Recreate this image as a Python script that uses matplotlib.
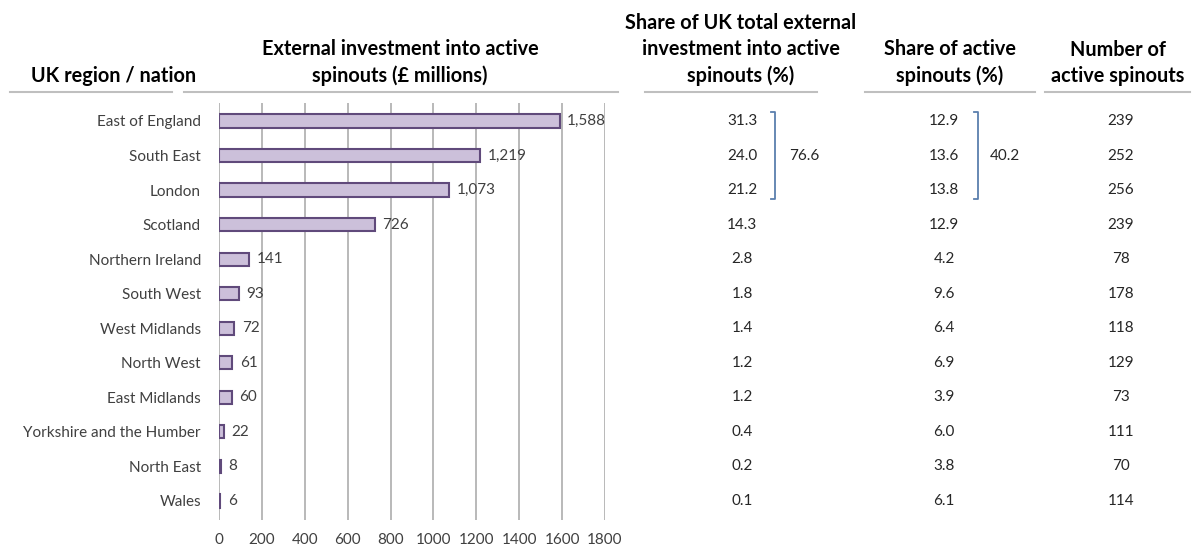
import matplotlib.pyplot as plt
import matplotlib.transforms as mtransforms
from matplotlib.lines import Line2D

# Regional data on university spinouts
regions = ["East of England", "South East", "London", "Scotland", "Northern Ireland",
           "South West", "West Midlands", "North West", "East Midlands",
           "Yorkshire and the Humber", "North East", "Wales"]
investment = [1588, 1219, 1073, 726, 141, 93, 72, 61, 60, 22, 8, 6]
share_investment = [31.3, 24.0, 21.2, 14.3, 2.8, 1.8, 1.4, 1.2, 1.2, 0.4, 0.2, 0.1]
share_spinouts = [12.9, 13.6, 13.8, 12.9, 4.2, 9.6, 6.4, 6.9, 3.9, 6.0, 3.8, 6.1]
n_spinouts = [239, 252, 256, 239, 78, 178, 118, 129, 73, 111, 70, 114]
x_ticks = [0, 200, 400, 600, 800, 1000, 1200, 1400, 1600, 1800]

# Golden-triangle totals (first three regions)
top3_investment_total = 76.6
top3_spinouts_total = 40.2

headers = [
    ("UK region / nation", 114),
    ("External investment into active\nspinouts (£ millions)", 400),
    ("Share of UK total external\ninvestment into active\nspinouts (%)", 741),
    ("Share of active\nspinouts (%)", 950),
    ("Number of\nactive spinouts", 1118),
]
header_rules = [(10, 172), (184, 618), (645, 817), (865, 1035), (1045, 1190)]

W, H = 1192, 545
plt.rcParams['font.family'] = ['Lato', 'DejaVu Sans']

fig = plt.figure(figsize=(W / 100, H / 100), dpi=100)

ax = fig.add_axes([219 / W, 1 - 520 / H, 386 / W, (520 - 103) / H])
ypos = list(range(len(regions)))
ax.barh(ypos, investment, height=0.38, color="#ccc0da", edgecolor="#604a7b",
        linewidth=1.5, zorder=3)
for y, v in zip(ypos, investment):
    ax.annotate(f"{v:,}", xy=(v, y), xytext=(5.5, 0), textcoords="offset points",
                va="center", ha="left", fontsize=11, color="#404040")

ax.set_xlim(0, 1800)
ax.set_ylim(len(regions) - 0.45, -0.52)
ax.set_xticks(x_ticks)
ax.set_xticklabels([str(t) for t in x_ticks], fontsize=11, color="#404040")
ax.set_yticks(ypos)
ax.set_yticklabels(regions, fontsize=11, color="#404040")
ax.tick_params(axis="both", length=0)
ax.tick_params(axis="y", pad=13)
ax.tick_params(axis="x", pad=9)
ax.grid(axis="x", color="#b3b3b3", linewidth=1.3, zorder=0)
for s in ax.spines.values():
    s.set_visible(False)

# Rows share the bar axis' y scale; x is in figure pixels
trans = mtransforms.blended_transform_factory(
    mtransforms.Affine2D().scale(1 / W, 1) + fig.transFigure, ax.transData)
# x and y in figure pixels, measured from the top-left corner
ptrans = mtransforms.Affine2D().scale(1 / W, -1 / H).translate(0, 1) + fig.transFigure

for y, a, b, c in zip(ypos, share_investment, share_spinouts, n_spinouts):
    fig.text(742, y, f"{a:.1f}", transform=trans, ha="center", va="center",
             fontsize=11, color="#262626")
    fig.text(944, y, f"{b:.1f}", transform=trans, ha="center", va="center",
             fontsize=11, color="#262626")
    fig.text(1121, y, f"{c}", transform=trans, ha="center", va="center",
             fontsize=11, color="#262626")


def bracket(x, total, label_x):
    y0, y1 = -0.27, 2.27
    color = "#5b7fae"
    fig.add_artist(Line2D([x - 4, x, x, x - 4], [y0, y0, y1, y1], transform=trans,
                          color=color, linewidth=1.3))
    fig.text(label_x, 1, f"{total:.1f}", transform=trans, ha="left", va="center",
             fontsize=11, color="#262626")


bracket(775, top3_investment_total, 789)
bracket(978, top3_spinouts_total, 990)

for text, cx in headers:
    fig.text(cx, 82, text, transform=ptrans, ha="center", va="baseline",
             fontsize=14.3, fontweight="bold", color="#000000", linespacing=1.38)

for x0, x1 in header_rules:
    fig.add_artist(Line2D([x0, x1], [92, 92], transform=ptrans, color="#bfbfbf",
                          linewidth=1.5))

fig.savefig("out.png", dpi=100)
